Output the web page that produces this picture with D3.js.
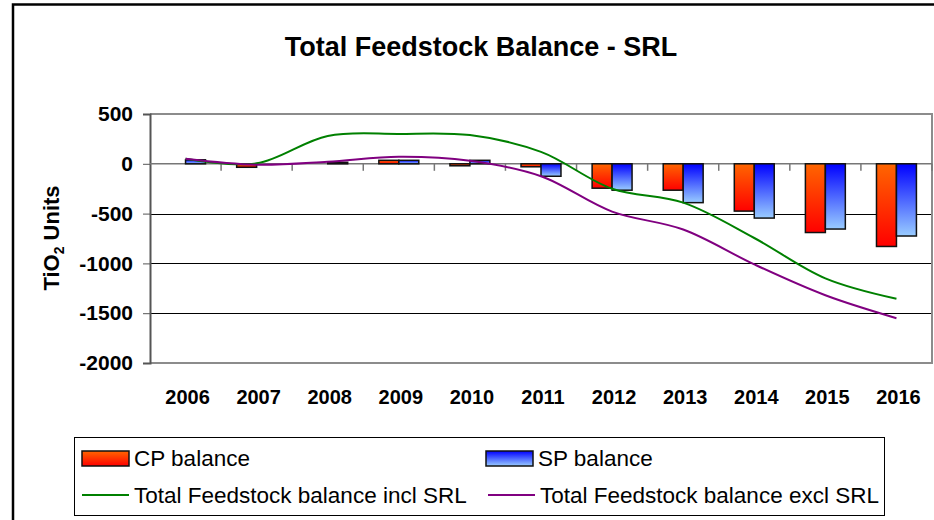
<!DOCTYPE html>
<html>
<head>
<meta charset="utf-8">
<script src="https://d3js.org/d3.v7.min.js"></script>
<style>
  body { margin: 0; background: #fff; }
  text { font-family: Arial, "Liberation Sans", sans-serif; }
</style>
</head>
<body>
<svg id="viz"></svg>
<script>
// chart data
var years = ["2006","2007","2008","2009","2010","2011","2012","2013","2014","2015","2016"];
var cpBalance = [0, -35, 0, 35, -20, -30, -245, -265, -475, -690, -830];
var spBalance = [40, 0, 15, 35, 35, -125, -265, -390, -545, -655, -725];
var inclSRL = [50, 5, 280, 300, 288, 120, -250, -390, -745, -1150, -1355];
var exclSRL = [50, -10, 20, 70, 30, -125, -480, -660, -1010, -1320, -1550];
var yTicks = [500, 0, -500, -1000, -1500, -2000];

var width = 934, height = 520;
var svg = d3.select("#viz").attr("width", width).attr("height", height);

// outer chart border (only left and top are visible)
svg.append("path")
  .attr("d", "M13,520 L13,4.5 L934,4.5")
  .attr("fill", "none").attr("stroke", "#000").attr("stroke-width", 2.5);

svg.append("text")
  .attr("x", 481).attr("y", 56)
  .attr("text-anchor", "middle")
  .style("font-size", "27px").style("font-weight", "bold")
  .text("Total Feedstock Balance - SRL");

var plotLeft = 150, plotRight = 932, plotTop = 114, plotBottom = 363;

var x = d3.scaleBand().domain(years).range([plotLeft, plotRight]);
var x1 = d3.scaleBand().domain(["CP", "SP"]).range([0, x.bandwidth()]).paddingOuter(0.78);
var y = d3.scaleLinear().domain([-2000, 500]).range([plotBottom, plotTop]);

var defs = svg.append("defs");
var g1 = defs.append("linearGradient").attr("id", "cpGrad").attr("x1", 0).attr("y1", 0).attr("x2", 0).attr("y2", 1);
g1.append("stop").attr("offset", "0%").attr("stop-color", "#ff6600");
g1.append("stop").attr("offset", "100%").attr("stop-color", "#ff0000");
var g2 = defs.append("linearGradient").attr("id", "spGrad").attr("x1", 0).attr("y1", 0).attr("x2", 0).attr("y2", 1);
g2.append("stop").attr("offset", "0%").attr("stop-color", "#0000ff");
g2.append("stop").attr("offset", "100%").attr("stop-color", "#99ccff");

// gridlines
svg.append("g").selectAll("line")
  .data([-500, -1000, -1500])
  .enter().append("line")
  .attr("x1", plotLeft).attr("x2", plotRight)
  .attr("y1", function(d) { return Math.round(y(d)) + 0.5; })
  .attr("y2", function(d) { return Math.round(y(d)) + 0.5; })
  .attr("stroke", "#000").attr("stroke-width", 1);

// plot border top/right/bottom
svg.append("path")
  .attr("d", "M" + plotLeft + "," + plotTop + " L" + plotRight + "," + plotTop + " L" + plotRight + "," + plotBottom + " L" + plotLeft + "," + plotBottom)
  .attr("fill", "none").attr("stroke", "#8c8c8c").attr("stroke-width", 2);

// y axis
var yAxis = svg.append("g")
  .attr("transform", "translate(" + plotLeft + ",0)")
  .call(d3.axisLeft(y).tickValues(yTicks).tickSize(7).tickPadding(10).tickFormat(function(d) { return String(d); }));
yAxis.select(".domain").attr("stroke", "#555").attr("stroke-width", 2);
yAxis.selectAll(".tick line").attr("stroke", "#555");
yAxis.selectAll("text")
  .style("font-size", "21px").style("font-weight", "bold")
  .attr("fill", "#000")
  .style("font-family", "Arial, 'Liberation Sans', sans-serif");

// zero line with category ticks
var y0 = y(0);
svg.append("line")
  .attr("x1", plotLeft).attr("x2", plotRight).attr("y1", y0).attr("y2", y0)
  .attr("stroke", "#777").attr("stroke-width", 1.5);
svg.append("g").selectAll("line")
  .data(years.slice(1).concat(["end"]))
  .enter().append("line")
  .attr("x1", function(d, i) { return plotLeft + x.step() * (i + 1); })
  .attr("x2", function(d, i) { return plotLeft + x.step() * (i + 1); })
  .attr("y1", y0).attr("y2", y0 + 7)
  .attr("stroke", "#777").attr("stroke-width", 1.5);

// x labels
svg.append("g").selectAll("text")
  .data(years)
  .enter().append("text")
  .attr("x", function(d) { return x(d) + x.bandwidth() / 2 + 2; })
  .attr("y", 404)
  .attr("text-anchor", "middle")
  .style("font-size", "20px").style("font-weight", "bold")
  .text(function(d) { return d; });

// y title
var yt = svg.append("text")
  .attr("transform", "translate(59,238) rotate(-90)")
  .attr("text-anchor", "middle")
  .style("font-size", "22px").style("font-weight", "bold");
yt.append("tspan").text("TiO");
yt.append("tspan").attr("dy", 5).style("font-size", "14px").text("2");
yt.append("tspan").attr("dy", -5).text(" Units");

// bars
var barData = [];
years.forEach(function(yr, i) {
  barData.push({ year: yr, key: "CP", value: cpBalance[i] });
  barData.push({ year: yr, key: "SP", value: spBalance[i] });
});
svg.append("g").selectAll("rect")
  .data(barData.filter(function(d) { return d.value !== 0; }))
  .enter().append("rect")
  .attr("x", function(d) { return x(d.year) + x1(d.key); })
  .attr("width", x1.bandwidth())
  .attr("y", function(d) { return Math.min(y(d.value), y0); })
  .attr("height", function(d) { return Math.abs(y(d.value) - y0); })
  .attr("fill", function(d) { return d.key === "CP" ? "url(#cpGrad)" : "url(#spGrad)"; })
  .attr("stroke", "#111").attr("stroke-width", 1.5);

// lines
var line = d3.line()
  .x(function(d, i) { return x(years[i]) + x.bandwidth() / 2; })
  .y(function(d) { return y(d); })
  .curve(d3.curveCatmullRom);
svg.append("path").datum(inclSRL)
  .attr("d", line).attr("fill", "none").attr("stroke", "#008000").attr("stroke-width", 2);
svg.append("path").datum(exclSRL)
  .attr("d", line).attr("fill", "none").attr("stroke", "#800080").attr("stroke-width", 2);

// legend
var lg = svg.append("g");
lg.append("rect")
  .attr("x", 74.5).attr("y", 437.5).attr("width", 810).attr("height", 78)
  .attr("fill", "#fff").attr("stroke", "#000").attr("stroke-width", 1);

var legendItems = [
  { label: "CP balance", type: "bar", fill: "url(#cpGrad)", x: 82, y: 458 },
  { label: "SP balance", type: "bar", fill: "url(#spGrad)", x: 486, y: 458 },
  { label: "Total Feedstock balance incl SRL", type: "line", color: "#008000", x: 82, y: 495 },
  { label: "Total Feedstock balance excl SRL", type: "line", color: "#800080", x: 488, y: 495 }
];
legendItems.forEach(function(it) {
  if (it.type === "bar") {
    lg.append("rect")
      .attr("x", it.x).attr("y", it.y - 7).attr("width", 47).attr("height", 15)
      .attr("fill", it.fill).attr("stroke", "#111").attr("stroke-width", 1.5);
  } else {
    lg.append("line")
      .attr("x1", it.x).attr("x2", it.x + 47).attr("y1", it.y).attr("y2", it.y)
      .attr("stroke", it.color).attr("stroke-width", 2);
  }
  lg.append("text")
    .attr("x", it.x + 52).attr("y", it.y + 8)
    .style("font-size", "22.5px")
    .text(it.label);
});
</script>
</body>
</html>
